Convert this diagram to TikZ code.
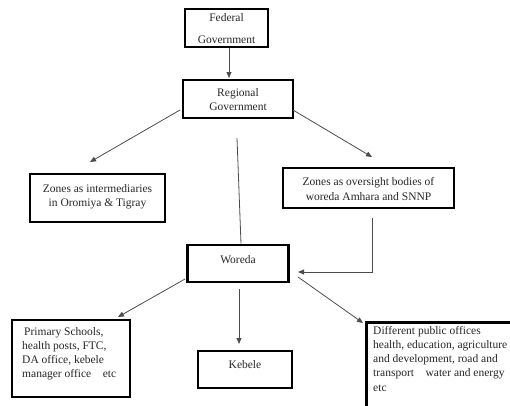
\documentclass[tikz,border=0pt]{standalone}
\usepackage{fontspec}
\setmainfont{Liberation Serif}
\usetikzlibrary{arrows.meta}
\begin{document}
\begin{tikzpicture}[x=1pt,y=-1pt,
  box/.style={draw=black, line width=2.6pt, inner sep=0pt},
  lbl/.style={font=\fontsize{11.5}{14}\selectfont, text=black!85, align=center, inner sep=0pt},
  ltxt/.style={font=\fontsize{11.5}{14.2}\selectfont, text=black!85, align=left, inner sep=0pt, anchor=north west},
  conn/.style={draw=black!70, line width=0.8pt},
  arr/.style={conn, -{Triangle[length=6pt,width=5pt]}}]
\useasboundingbox (0,0) rectangle (510,405);
% boxes
\node[box, minimum width=83pt, minimum height=38pt] (fed) at (226.5,28) {};
\node[lbl] (fedt) at (226.5,29) {Federal\\[8pt]Government};
\node[box, minimum width=110pt, minimum height=38pt] (reg) at (238,99) {};
\node[lbl] (regt) at (238,100) {Regional\\Government};
\node[box, minimum width=135pt, minimum height=48pt] (zl) at (97.5,198) {};
\node[lbl] (zlt) at (97.5,197) {Zones as intermediaries\\in Oromiya \& Tigray};
\node[box, minimum width=171pt, minimum height=40pt] (zr) at (368.5,188) {};
\node[lbl] (zrt) at (368.5,189) {Zones as oversight bodies of\\woreda Amhara and SNNP};
\node[box, minimum width=101pt, minimum height=37pt] (wor) at (238,263.5) {};
\node[lbl] (wort) at (238,260) {Woreda};
\node[box, minimum width=94pt, minimum height=37pt] (keb) at (245,369.5) {};
\node[lbl] (kebt) at (245,365) {Kebele};
\node[box, minimum width=118pt, minimum height=77pt] (pri) at (71,358.5) {};
\node[ltxt] (prit) at (22,327) {\hspace{2pt}Primary Schools,\\health posts, FTC,\\DA office, kebele\\manager office\quad etc};
\node[box, minimum width=160pt, minimum height=100pt, anchor=north west] (dif) at (365,321) {};
\node[ltxt] (dift) at (373,326) {Different public offices\\health, education, agriculture\\and development, road and\\transport\quad water and energy\\etc};
% connector end points
\coordinate (c1) at (180,110);
\coordinate (c2) at (90,162);
\coordinate (c3) at (293,110);
\coordinate (c4) at (372,157);
\coordinate (c5) at (237,138);
\coordinate (c6) at (372,218);
\coordinate (c7) at (372,272);
\coordinate (c8) at (298,272);
\coordinate (c9) at (185,279);
\coordinate (c10) at (118,317);
\coordinate (c11) at (239,289);
\coordinate (c12) at (239,344);
\coordinate (c13) at (298,277);
\coordinate (c14) at (363,323);
% connectors
\draw[arr] (fed.south -| 229,0) -- (229,78);
\draw[arr] (c1) -- (c2);
\draw[arr] (c3) -- (c4);
\draw[conn] (c5) -- (wor.north -| 241,0);
\draw[arr] (c6) -- (c7) -- (c8);
\draw[arr] (c9) -- (c10);
\draw[arr] (c11) -- (c12);
\draw[arr] (c13) -- (c14);
\end{tikzpicture}
\end{document}
